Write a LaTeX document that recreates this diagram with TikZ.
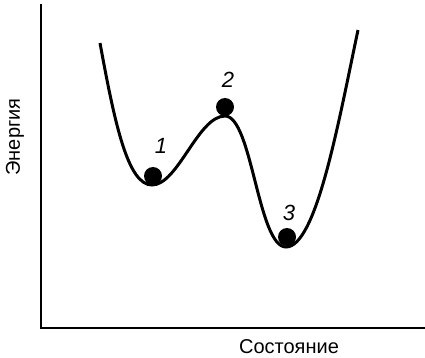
\documentclass[tikz,border=0pt]{standalone}
\usepackage{fontspec}
\setmainfont{Liberation Sans}
\begin{document}
\begin{tikzpicture}[x=1pt,y=-1pt,
  axis/.style={line width=1.6pt},
  curve/.style={line width=3pt},
  ball/.style={circle,fill=black,inner sep=0pt,minimum size=18pt},
  num/.style={font=\fontsize{22}{26}\selectfont\itshape},
  lbl/.style={font=\fontsize{20}{24}\selectfont}]
\useasboundingbox (0,0) rectangle (425,358);
\coordinate (top) at (41,4);
\coordinate (origin) at (41,328);
\coordinate (right) at (425,328);
\draw[axis] (top) -- (origin) -- (right);
\draw[curve] (100,43) .. controls (115,125) and (128,185) .. (152,185)
  .. controls (178,185) and (198,116) .. (225,116)
  .. controls (252,116) and (258,247) .. (286,247)
  .. controls (316,247) and (338,125) .. (358,30);
\node[ball] (b1) at (153,176) {};
\node[ball] (b2) at (225,107) {};
\node[ball] (b3) at (287,237) {};
\node[num] (n1) at (161,146) {1};
\node[num] (n2) at (228,80) {2};
\node[num] (n3) at (289,213) {3};
\node[lbl] (xl) at (289,347) {Состояние};
\node[lbl,rotate=90] (yl) at (15,137) {Энергия};
\end{tikzpicture}
\end{document}
